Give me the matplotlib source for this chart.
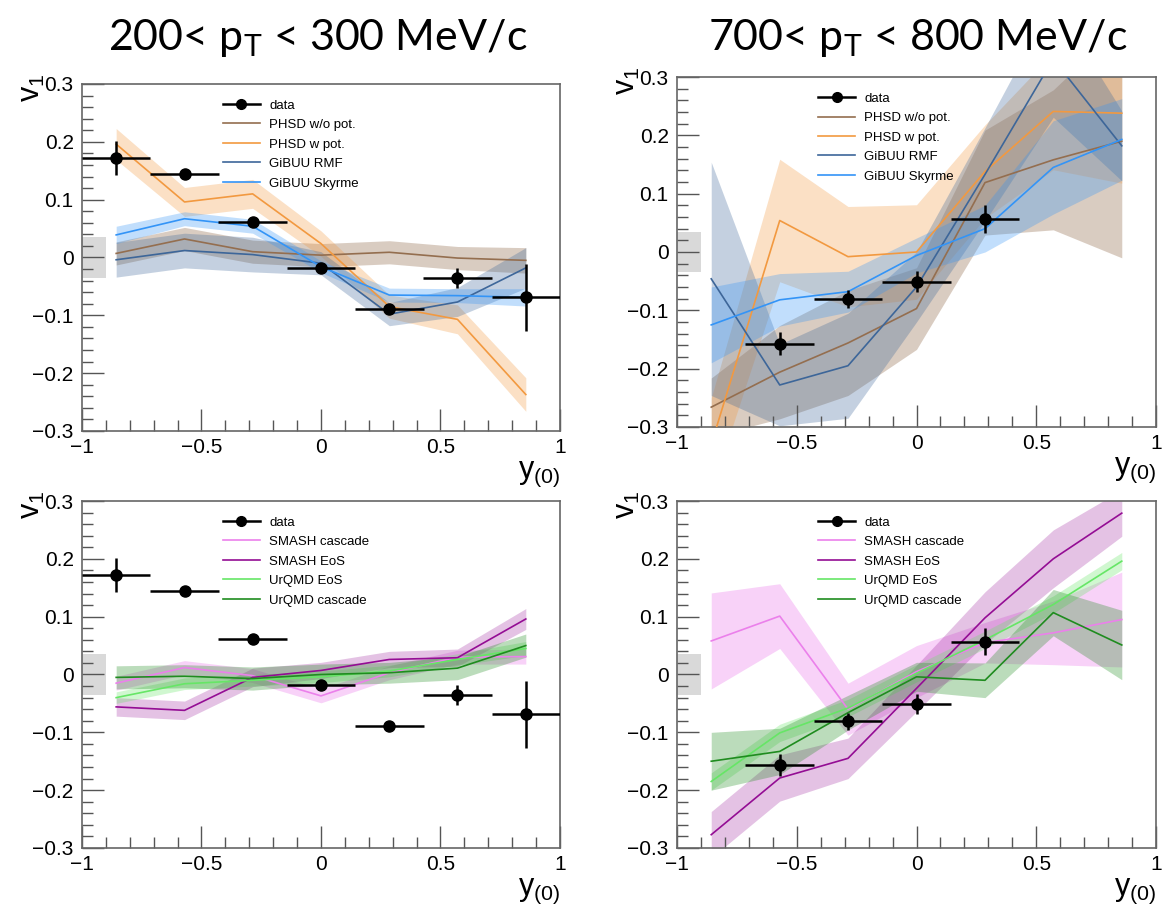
import numpy as np
import matplotlib
matplotlib.use("Agg")
import matplotlib.pyplot as plt
from matplotlib.ticker import MultipleLocator
from matplotlib.lines import Line2D

plt.rcParams['font.family'] = ['Liberation Sans', 'DejaVu Sans']
plt.rcParams['mathtext.default'] = 'regular'

# rapidity bin centres
y_bins = [-0.857, -0.571, -0.286, 0.0, 0.286, 0.571, 0.857]
y_half = 0.143

# measured v1, 200 < pT < 300 MeV/c
lo_data = [0.172, 0.144, 0.061, -0.018, -0.089, -0.036, -0.069]
lo_data_err = [0.030, 0.004, 0.004, 0.004, 0.004, 0.017, 0.058]

# measured v1, 700 < pT < 800 MeV/c (four central bins)
hi_x = [-0.571, -0.286, 0.0, 0.286]
hi_data = [-0.157, -0.081, -0.051, 0.057]
hi_data_err = [0.019, 0.015, 0.018, 0.024]

# transport models, low pT
lo_phsd_nopot = [0.007, 0.032, 0.010, 0.004, 0.009, -0.001, -0.005]
lo_phsd_nopot_err = [0.020, 0.020, 0.020, 0.020, 0.020, 0.020, 0.022]
lo_phsd_pot = [0.196, 0.096, 0.110, 0.024, -0.085, -0.107, -0.237]
lo_phsd_pot_err = [0.027, 0.025, 0.025, 0.022, 0.020, 0.025, 0.029]
lo_gibuu_rmf = [-0.004, 0.012, 0.005, -0.010, -0.098, -0.077, -0.018]
lo_gibuu_rmf_err = [0.030, 0.030, 0.030, 0.020, 0.020, 0.025, 0.035]
lo_gibuu_sky = [0.039, 0.067, 0.054, -0.016, -0.065, -0.066, -0.069]
lo_gibuu_sky_err = [0.015, 0.012, 0.012, 0.010, 0.012, 0.012, 0.015]

lo_smash_casc = [-0.015, 0.012, -0.002, -0.037, 0.003, 0.030, 0.031]
lo_smash_casc_err = [0.012, 0.012, 0.012, 0.012, 0.012, 0.012, 0.013]
lo_smash_eos = [-0.056, -0.062, -0.005, 0.007, 0.026, 0.029, 0.096]
lo_smash_eos_err = [0.016, 0.016, 0.016, 0.014, 0.014, 0.015, 0.018]
lo_urqmd_eos = [-0.040, -0.016, -0.010, -0.004, 0.006, 0.026, 0.045]
lo_urqmd_eos_err = [0.010, 0.010, 0.010, 0.010, 0.010, 0.010, 0.012]
lo_urqmd_casc = [-0.005, -0.003, -0.007, 0.000, 0.003, 0.011, 0.050]
lo_urqmd_casc_err = [0.020, 0.020, 0.020, 0.018, 0.018, 0.020, 0.020]

# transport models, high pT
hi_phsd_nopot = [-0.266, -0.206, -0.156, -0.097, 0.119, 0.158, 0.190]
hi_phsd_nopot_err = [0.050, 0.080, 0.090, 0.070, 0.090, 0.120, 0.200]
hi_phsd_pot = [-0.330, 0.054, -0.008, 0.000, 0.138, 0.241, 0.238]
hi_phsd_pot_err = [0.080, 0.105, 0.086, 0.081, 0.080, 0.100, 0.120]
hi_gibuu_rmf = [-0.046, -0.228, -0.195, -0.060, 0.133, 0.331, 0.182]
hi_gibuu_rmf_err = [0.200, 0.070, 0.090, 0.060, 0.080, 0.100, 0.060]
hi_gibuu_sky = [-0.125, -0.082, -0.068, -0.006, 0.040, 0.145, 0.193]
hi_gibuu_sky_err = [0.065, 0.045, 0.035, 0.030, 0.040, 0.080, 0.070]

hi_smash_casc = [0.058, 0.101, -0.060, 0.005, 0.055, 0.072, 0.095]
hi_smash_casc_err = [0.083, 0.056, 0.045, 0.045, 0.035, 0.055, 0.082]
hi_smash_eos = [-0.277, -0.179, -0.145, -0.024, 0.098, 0.200, 0.279]
hi_smash_eos_err = [0.040, 0.040, 0.035, 0.040, 0.045, 0.050, 0.040]
hi_urqmd_eos = [-0.185, -0.101, -0.058, 0.002, 0.060, 0.121, 0.196]
hi_urqmd_eos_err = [0.015, 0.015, 0.015, 0.015, 0.015, 0.015, 0.015]
hi_urqmd_casc = [-0.150, -0.133, -0.066, -0.004, -0.010, 0.107, 0.051]
hi_urqmd_casc_err = [0.050, 0.040, 0.030, 0.025, 0.030, 0.040, 0.060]

# common systematic uncertainty
sys_band = 0.035

c_phsd_nopot = (0.58, 0.43, 0.31)
c_phsd_pot = (0.95, 0.60, 0.25)
c_rmf = (0.24, 0.40, 0.60)
c_sky = (0.20, 0.58, 0.97)
c_smash_casc = (0.92, 0.50, 0.92)
c_smash_eos = (0.58, 0.05, 0.58)
c_urqmd_eos = (0.40, 0.90, 0.40)
c_urqmd_casc = (0.12, 0.55, 0.12)


def model(ax, vals, errs, color, label, band_alpha):
    v = np.array(vals)
    e = np.array(errs)
    ax.fill_between(y_bins, v - e, v + e, color=color, alpha=band_alpha, lw=0, zorder=1)
    ax.plot(y_bins, v, color=color, lw=1.2, label=label, zorder=3)


def frame(ax):
    ax.set_xlim(-1, 1)
    ax.set_ylim(-0.3, 0.3)
    ax.xaxis.set_major_locator(MultipleLocator(0.5))
    ax.xaxis.set_minor_locator(MultipleLocator(0.1))
    ax.yaxis.set_major_locator(MultipleLocator(0.1))
    ax.yaxis.set_minor_locator(MultipleLocator(0.02))
    ax.tick_params(which='both', direction='in', top=False, right=False, colors='#555555',
                   labelcolor='black', labelsize=15)
    ax.tick_params(axis='x', pad=5)
    ax.tick_params(axis='y', pad=6)
    ax.tick_params(which='major', length=16, width=1)
    ax.tick_params(which='minor', length=8, width=1)
    ax.set_xticks([-1, -0.5, 0, 0.5, 1])
    ax.set_xticklabels(['\u22121', '\u22120.5', '0', '0.5', '1'])
    ax.set_yticks([-0.3, -0.2, -0.1, 0, 0.1, 0.2, 0.3])
    ax.set_yticklabels(['\u22120.3', '\u22120.2', '\u22120.1', '0', '0.1', '0.2', '0.3'])
    for s in ax.spines.values():
        s.set_color('#666666')
        s.set_linewidth(1.2)
    ax.fill_between([-1, -0.9], -sys_band, sys_band, color='#d9d9d9', lw=0, zorder=0.5)
    ax.text(-0.105, 1.03, '$v_1$', rotation=90, ha='center', va='top',
            fontsize=22, transform=ax.transAxes)
    ax.text(1.0, -0.08, '$y_{(0)}$', ha='right', va='top', fontsize=22,
            transform=ax.transAxes)


def data(ax, x, vals, errs):
    ax.errorbar(x, vals, xerr=y_half, yerr=errs, fmt='o', color='black', ms=8,
                lw=1.8, capsize=0, zorder=5)


def legend(ax):
    handles, labels = ax.get_legend_handles_labels()
    data_handle = Line2D([], [], color='black', lw=1.8, marker='o', ms=7)
    ax.legend([data_handle] + handles, ['data'] + labels, loc='upper left',
              bbox_to_anchor=(0.27, 0.99), frameon=False, fontsize=9.5,
              handlelength=2.8, labelspacing=0.55, handletextpad=0.7)


fig = plt.figure(figsize=(11.63, 9.05), dpi=100)
ax_tl = fig.add_axes([0.0705, 0.5238, 0.411, 0.3834])
ax_tr = fig.add_axes([0.5821, 0.5282, 0.4119, 0.3867])
ax_bl = fig.add_axes([0.0705, 0.0630, 0.411, 0.3834])
ax_br = fig.add_axes([0.5821, 0.0630, 0.4119, 0.3834])

# PHSD / GiBUU, low pT
frame(ax_tl)
data(ax_tl, y_bins, lo_data, lo_data_err)
model(ax_tl, lo_phsd_nopot, lo_phsd_nopot_err, c_phsd_nopot, 'PHSD w/o pot.', 0.35)
model(ax_tl, lo_phsd_pot, lo_phsd_pot_err, c_phsd_pot, 'PHSD w pot.', 0.3)
model(ax_tl, lo_gibuu_rmf, lo_gibuu_rmf_err, c_rmf, 'GiBUU RMF', 0.3)
model(ax_tl, lo_gibuu_sky, lo_gibuu_sky_err, c_sky, 'GiBUU Skyrme', 0.3)
legend(ax_tl)

# PHSD / GiBUU, high pT
frame(ax_tr)
data(ax_tr, hi_x, hi_data, hi_data_err)
model(ax_tr, hi_phsd_nopot, hi_phsd_nopot_err, c_phsd_nopot, 'PHSD w/o pot.', 0.35)
model(ax_tr, hi_phsd_pot, hi_phsd_pot_err, c_phsd_pot, 'PHSD w pot.', 0.3)
model(ax_tr, hi_gibuu_rmf, hi_gibuu_rmf_err, c_rmf, 'GiBUU RMF', 0.3)
model(ax_tr, hi_gibuu_sky, hi_gibuu_sky_err, c_sky, 'GiBUU Skyrme', 0.3)
legend(ax_tr)

# SMASH / UrQMD, low pT
frame(ax_bl)
data(ax_bl, y_bins, lo_data, lo_data_err)
model(ax_bl, lo_smash_casc, lo_smash_casc_err, c_smash_casc, 'SMASH cascade', 0.35)
model(ax_bl, lo_smash_eos, lo_smash_eos_err, c_smash_eos, 'SMASH EoS', 0.25)
model(ax_bl, lo_urqmd_eos, lo_urqmd_eos_err, c_urqmd_eos, 'UrQMD EoS', 0.3)
model(ax_bl, lo_urqmd_casc, lo_urqmd_casc_err, c_urqmd_casc, 'UrQMD cascade', 0.3)
legend(ax_bl)

# SMASH / UrQMD, high pT
frame(ax_br)
data(ax_br, hi_x, hi_data, hi_data_err)
model(ax_br, hi_smash_casc, hi_smash_casc_err, c_smash_casc, 'SMASH cascade', 0.35)
model(ax_br, hi_smash_eos, hi_smash_eos_err, c_smash_eos, 'SMASH EoS', 0.25)
model(ax_br, hi_urqmd_eos, hi_urqmd_eos_err, c_urqmd_eos, 'UrQMD EoS', 0.3)
model(ax_br, hi_urqmd_casc, hi_urqmd_casc_err, c_urqmd_casc, 'UrQMD cascade', 0.3)
legend(ax_br)

fig.text(0.273, 0.958, '200< $p_T$ < 300 MeV/c', ha='center', va='center',
         fontsize=31, family=['Lato', 'DejaVu Sans'])
fig.text(0.789, 0.958, '700< $p_T$ < 800 MeV/c', ha='center', va='center',
         fontsize=31, family=['Lato', 'DejaVu Sans'])

fig.savefig('out.png', dpi=100)
